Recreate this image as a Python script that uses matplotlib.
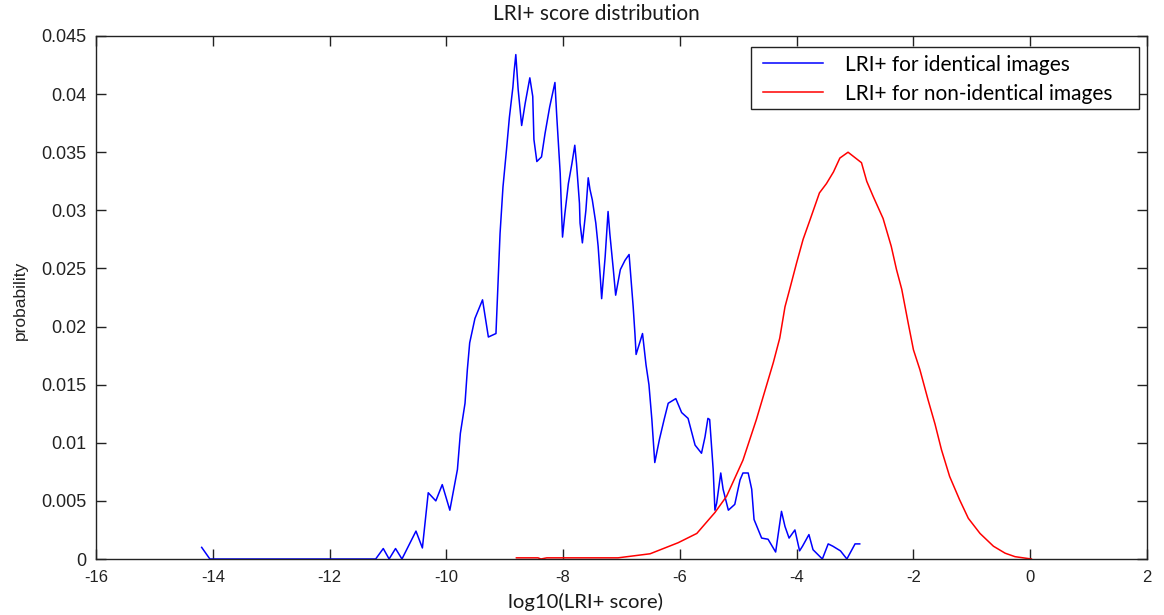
# LRI+ score distribution: identical vs non-identical images
import numpy as np
from matplotlib import pyplot as plt
from matplotlib.patches import Rectangle

# blue curve: LRI+ for identical images
x_ident = [-14.19, -14.05, -11.21, -11.08, -10.98, -10.87, -10.76, -10.52, -10.41, -10.31,
           -10.18, -10.07, -9.94, -9.81, -9.76, -9.68, -9.64, -9.60, -9.51, -9.38,
           -9.28, -9.15, -9.08, -9.03, -8.97, -8.92, -8.86, -8.84, -8.81, -8.77,
           -8.71, -8.65, -8.57, -8.52, -8.50, -8.45, -8.37, -8.31, -8.23, -8.14,
           -8.11, -8.05, -8.03, -8.01, -7.97, -7.91, -7.85, -7.80, -7.77, -7.72,
           -7.71, -7.67, -7.61, -7.57, -7.54, -7.50, -7.44, -7.40, -7.36, -7.34,
           -7.28, -7.23, -7.20, -7.14, -7.10, -7.02, -6.94, -6.87, -6.80, -6.77,
           -6.75, -6.64, -6.58, -6.53, -6.48, -6.46, -6.43, -6.35, -6.27, -6.20,
           -6.07, -5.97, -5.86, -5.74, -5.63, -5.57, -5.52, -5.49, -5.43, -5.40,
           -5.37, -5.30, -5.26, -5.17, -5.06, -4.97, -4.92, -4.83, -4.77, -4.73,
           -4.60, -4.49, -4.36, -4.26, -4.20, -4.13, -4.03, -3.95, -3.90, -3.79,
           -3.72, -3.56, -3.46, -3.38, -3.25, -3.14, -3.00, -2.92]
p_ident = [0.0010, 0.0, 0.0, 0.0009, 0.0, 0.0009, 0.0, 0.0024, 0.00095, 0.0057,
           0.0050, 0.0064, 0.0042, 0.0077, 0.0108, 0.0134, 0.0163, 0.0186, 0.0207, 0.0223,
           0.0191, 0.0194, 0.0280, 0.0320, 0.0352, 0.0380, 0.0406, 0.0419, 0.0434, 0.0404,
           0.0373, 0.0392, 0.0414, 0.0398, 0.0361, 0.0342, 0.0346, 0.0366, 0.0389, 0.0410,
           0.0382, 0.0332, 0.0303, 0.0277, 0.0297, 0.0323, 0.0340, 0.0356, 0.0340, 0.0306,
           0.0289, 0.0272, 0.0300, 0.0328, 0.0318, 0.0309, 0.0289, 0.0269, 0.0240, 0.0224,
           0.0260, 0.0299, 0.0280, 0.0249, 0.0227, 0.0249, 0.0257, 0.0262, 0.0217, 0.0194,
           0.0176, 0.0194, 0.0167, 0.0150, 0.0120, 0.0105, 0.0083, 0.0103, 0.0120, 0.0134,
           0.0138, 0.0126, 0.0121, 0.0098, 0.0091, 0.0105, 0.0121, 0.0120, 0.0077, 0.0042,
           0.0048, 0.0074, 0.0060, 0.0042, 0.0047, 0.0068, 0.0074, 0.0074, 0.0060, 0.0034,
           0.0018, 0.0017, 0.0006, 0.0041, 0.0028, 0.0018, 0.0025, 0.0007, 0.0011, 0.0021,
           0.0008, 0.0, 0.0013, 0.0011, 0.0007, 0.0, 0.0013, 0.0013]

# red curve: LRI+ for non-identical images
x_nonid = [-8.80, -8.43, -8.38, -8.28, -7.06, -6.51, -6.03, -5.71, -5.40, -5.20,
           -4.92, -4.69, -4.40, -4.29, -4.20, -4.12, -4.00, -3.89, -3.77, -3.61,
           -3.49, -3.37, -3.26, -3.12, -2.89, -2.80, -2.69, -2.52, -2.38, -2.29,
           -2.20, -2.09, -2.00, -1.89, -1.75, -1.63, -1.52, -1.38, -1.21, -1.06,
           -0.86, -0.63, -0.43, -0.26, 0.02]
p_nonid = [0.0001, 0.0001, 0.0, 0.0001, 0.0001, 0.00045, 0.0014, 0.0022, 0.0040, 0.0054,
           0.0085, 0.0120, 0.0169, 0.0190, 0.0217, 0.0232, 0.0255, 0.0275, 0.0292, 0.0315,
           0.0323, 0.0333, 0.0345, 0.0350, 0.0341, 0.0325, 0.0312, 0.0293, 0.0269, 0.0249,
           0.0232, 0.0203, 0.0180, 0.0163, 0.0137, 0.0116, 0.0094, 0.0071, 0.0051, 0.0035,
           0.0022, 0.0011, 0.0005, 0.0002, 0.0]

x_ticks = np.arange(-16, 3, 2)
y_ticks = np.arange(0, 0.0451, 0.005)
y_labels = ['0', '0.005', '0.01', '0.015', '0.02', '0.025', '0.03', '0.035', '0.04', '0.045']

fig = plt.figure(figsize=(11.64, 6.15), dpi=100)
ax = fig.add_axes([96/1164, 1 - 559/615, (1147-96)/1164, (559-36)/615])

ax.plot(x_ident, p_ident, color='#0000ff', lw=1.1, label='LRI+ for identical images')
ax.plot(x_nonid, p_nonid, color='#ff0000', lw=1.1, label='LRI+ for non-identical images')

ax.set_xlim(-16, 2)
ax.set_ylim(0, 0.045)
ax.set_xticks(x_ticks)
ax.set_xticklabels([str(t) for t in x_ticks], fontfamily='Liberation Sans', fontsize=12)
ax.set_yticks(y_ticks)
ax.set_yticklabels(y_labels, fontfamily='Liberation Sans', fontsize=13)
ax.tick_params(direction='in', length=7, width=1, top=True, right=True, colors='#222222')
ax.tick_params(axis='x', pad=8)
ax.tick_params(axis='y', pad=7)
for s in ax.spines.values():
    s.set_color('#222222')
    s.set_linewidth(1)

fig.text(596/1164, 1 - 14/615, 'LRI+ score distribution', ha='center', va='center',
         fontfamily='Lato', fontsize=15, color='#1a1a1a')
fig.text(586/1164, 1 - 602/615, 'log10(LRI+ score)', ha='center', va='center',
         fontfamily='Lato', fontsize=14.6, color='#1a1a1a')
fig.text(20/1164, 1 - 300/615, 'probability', ha='center', va='center', rotation=90,
         fontfamily='Liberation Sans', fontsize=12.5, color='#222222')

# legend box drawn by hand so it matches the reference padding
ax.add_patch(Rectangle((0.6232, 0.8604), 0.9927 - 0.6232, 0.9796 - 0.8604,
                       transform=ax.transAxes, facecolor='white', edgecolor='#222222',
                       lw=1, zorder=4))
leg = ax.legend(loc='upper left', bbox_to_anchor=(0.6346, 0.9644), borderaxespad=0,
                borderpad=0, prop={'family': 'Lato', 'size': 15}, frameon=False,
                handlelength=2.9, handletextpad=1.05, labelspacing=0.44)
leg.set_zorder(5)

fig.savefig('out.png', dpi=100)
